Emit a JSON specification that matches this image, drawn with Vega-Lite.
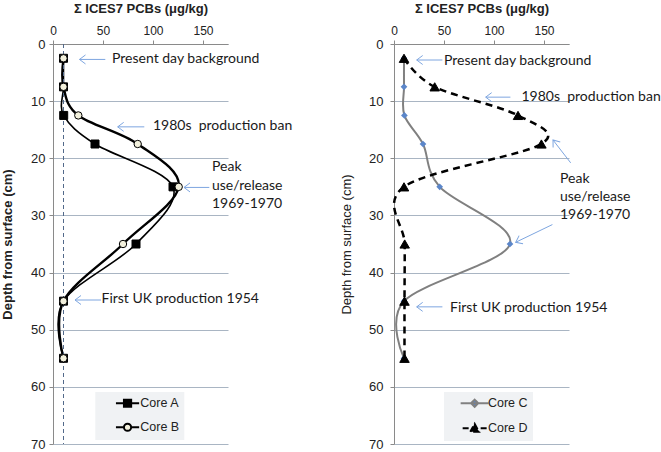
{
  "$schema": "https://vega.github.io/schema/vega-lite/v6.json",
  "padding": {"left": 1, "top": 2, "right": 0, "bottom": 2},
  "spacing": 47,
  "config": {
    "view": {"stroke": null},
    "font": "Liberation Sans",
    "axis": {"labelColor": "#222222", "titleColor": "#222222", "domainColor": "#8a8a8a", "tickColor": "#8a8a8a", "gridColor": "#a9b5c3", "labelOverlap": false}
  },
  "datasets": {
    "cores": [
      {"panel": "L", "core": "Core A", "pcb": 10.5, "depth": 2.5},
      {"panel": "L", "core": "Core A", "pcb": 10.5, "depth": 7.5},
      {"panel": "L", "core": "Core A", "pcb": 10.7, "depth": 12.5},
      {"panel": "L", "core": "Core A", "pcb": 42, "depth": 17.5},
      {"panel": "L", "core": "Core A", "pcb": 120, "depth": 25},
      {"panel": "L", "core": "Core A", "pcb": 83, "depth": 35},
      {"panel": "L", "core": "Core A", "pcb": 10.5, "depth": 45},
      {"panel": "L", "core": "Core A", "pcb": 10.5, "depth": 55},
      {"panel": "L", "core": "Core B", "pcb": 10.5, "depth": 2.5},
      {"panel": "L", "core": "Core B", "pcb": 10.5, "depth": 7.5},
      {"panel": "L", "core": "Core B", "pcb": 25.3, "depth": 12.5},
      {"panel": "L", "core": "Core B", "pcb": 84.7, "depth": 17.5},
      {"panel": "L", "core": "Core B", "pcb": 125.7, "depth": 25},
      {"panel": "L", "core": "Core B", "pcb": 70, "depth": 35},
      {"panel": "L", "core": "Core B", "pcb": 10.5, "depth": 45},
      {"panel": "L", "core": "Core B", "pcb": 10.5, "depth": 55},
      {"panel": "R", "core": "Core C", "pcb": 10, "depth": 2.5},
      {"panel": "R", "core": "Core C", "pcb": 10, "depth": 7.5},
      {"panel": "R", "core": "Core C", "pcb": 10.4, "depth": 12.5},
      {"panel": "R", "core": "Core C", "pcb": 29, "depth": 17.5},
      {"panel": "R", "core": "Core C", "pcb": 45.7, "depth": 25},
      {"panel": "R", "core": "Core C", "pcb": 116, "depth": 35},
      {"panel": "R", "core": "Core C", "pcb": 10, "depth": 45},
      {"panel": "R", "core": "Core C", "pcb": 10, "depth": 55},
      {"panel": "R", "core": "Core D", "pcb": 10, "depth": 2.5},
      {"panel": "R", "core": "Core D", "pcb": 40.7, "depth": 7.5},
      {"panel": "R", "core": "Core D", "pcb": 124, "depth": 12.5},
      {"panel": "R", "core": "Core D", "pcb": 147.4, "depth": 17.5},
      {"panel": "R", "core": "Core D", "pcb": 10, "depth": 25},
      {"panel": "R", "core": "Core D", "pcb": 10.7, "depth": 35},
      {"panel": "R", "core": "Core D", "pcb": 10.5, "depth": 45},
      {"panel": "R", "core": "Core D", "pcb": 10.5, "depth": 55}
    ],
    "background": [{"panel": "L", "pcb": 10.5}],
    "notes": [
      {"panel": "L", "label": "Present day background", "pcb": 59, "depth": 2.7},
      {"panel": "L", "label": "1980s\u00a0 production ban", "pcb": 100, "depth": 14.4},
      {"panel": "L", "label": "Peak", "pcb": 159, "depth": 21.6},
      {"panel": "L", "label": "use/release", "pcb": 159, "depth": 24.9},
      {"panel": "L", "label": "1969-1970", "pcb": 159, "depth": 28},
      {"panel": "L", "label": "First UK production 1954", "pcb": 48.5, "depth": 44.7},
      {"panel": "R", "label": "Present day background", "pcb": 50, "depth": 2.9},
      {"panel": "R", "label": "1980s\u00a0 production ban", "pcb": 127.5, "depth": 9.3},
      {"panel": "R", "label": "Peak", "pcb": 166, "depth": 23.6},
      {"panel": "R", "label": "use/release", "pcb": 166, "depth": 26.8},
      {"panel": "R", "label": "1969-1970", "pcb": 166, "depth": 30},
      {"panel": "R", "label": "First UK production 1954", "pcb": 56, "depth": 46.2}
    ],
    "arrows": [
      {"panel": "L", "pcb": 52.3, "depth": 2.7, "pcb2": 26.5, "depth2": 2.7},
      {"panel": "L", "pcb": 91.3, "depth": 14.5, "pcb2": 64.7, "depth2": 14.5},
      {"panel": "L", "pcb": 156.3, "depth": 25.1, "pcb2": 131, "depth2": 25.1},
      {"panel": "L", "pcb": 48, "depth": 44.8, "pcb2": 22, "depth2": 44.8},
      {"panel": "R", "pcb": 48.4, "depth": 2.8, "pcb2": 22.7, "depth2": 2.8},
      {"panel": "R", "pcb": 116.4, "depth": 9.3, "pcb2": 91.7, "depth2": 9.3},
      {"panel": "R", "pcb": 176.7, "depth": 20.8, "pcb2": 159, "depth2": 16.8},
      {"panel": "R", "pcb": 158.4, "depth": 31.6, "pcb2": 121.7, "depth2": 34.7},
      {"panel": "R", "pcb": 48.4, "depth": 46, "pcb2": 22.7, "depth2": 46}
    ]
  },
  "resolve": {
    "scale": {"x": "independent", "y": "independent", "stroke": "independent", "strokeDash": "independent", "shape": "independent", "fill": "independent"},
    "legend": {"stroke": "independent", "shape": "independent", "fill": "independent", "strokeDash": "independent"}
  },
  "hconcat": [
    {
      "width": 175,
      "height": 400,
      "layer": [
        {
          "data": {"name": "cores"},
          "transform": [{"filter": "datum.core === 'Core A'"}],
          "mark": {"type": "line", "interpolate": "cardinal", "stroke": "#000000", "strokeWidth": 1.6},
          "encoding": {
            "x": {"field": "pcb", "type": "quantitative", "scale": {"domain": [0, 175], "nice": false, "zero": false},
              "axis": {"orient": "top", "values": [0, 25, 50, 75, 100, 125, 150, 175], "title": "Σ ICES7 PCBs (μg/kg)", "grid": false, "titleFontWeight": "bold", "titleFontSize": 13, "titlePadding": 9, "labelFontSize": 12, "labelPadding": 3, "tickSize": 4, "labelFlush": false, "labelOverlap": false}},
            "y": {"field": "depth", "type": "quantitative", "scale": {"domain": [0, 70], "reverse": true, "nice": false, "zero": false},
              "axis": {"values": [0, 10, 20, 30, 40, 50, 60, 70], "title": "Depth from surface (cm)", "grid": true, "titleFontWeight": "bold", "titleFontSize": 13, "titlePadding": 16, "labelFontSize": 13, "labelPadding": 4, "tickSize": 4, "labelFlush": false, "labelOverlap": false}},
            "order": {"field": "depth", "type": "quantitative"}
          }
        },
        {
          "data": {"name": "cores"},
          "transform": [{"filter": "datum.core === 'Core B'"}],
          "mark": {"type": "line", "interpolate": "cardinal", "stroke": "#000000", "strokeWidth": 2.4},
          "encoding": {"x": {"field": "pcb", "type": "quantitative"}, "y": {"field": "depth", "type": "quantitative"}, "order": {"field": "depth", "type": "quantitative"}}
        },
        {
          "data": {"name": "background"},
          "mark": {"type": "rule", "stroke": "#52698a", "strokeDash": [4, 3], "strokeWidth": 1},
          "encoding": {"x": {"field": "pcb", "type": "quantitative"}}
        },
        {
          "data": {"name": "cores"},
          "transform": [{"filter": "datum.core === 'Core A'"}],
          "mark": {"type": "point", "filled": true, "shape": "square", "size": 64, "fill": "#000000", "stroke": "#000000", "strokeWidth": 1, "opacity": 1},
          "encoding": {"x": {"field": "pcb", "type": "quantitative"}, "y": {"field": "depth", "type": "quantitative"}}
        },
        {
          "data": {"name": "cores"},
          "transform": [{"filter": "datum.core === 'Core B'"}],
          "mark": {"type": "point", "filled": true, "shape": "circle", "size": 55, "fill": "#f2f0dc", "stroke": "#000000", "strokeWidth": 1, "opacity": 1},
          "encoding": {"x": {"field": "pcb", "type": "quantitative"}, "y": {"field": "depth", "type": "quantitative"}}
        },
        {
          "data": {"name": "cores"},
          "transform": [{"filter": "datum.panel === 'none'"}],
          "mark": {"type": "point", "filled": true, "opacity": 1, "stroke": "#000000", "strokeWidth": 2},
          "encoding": {
            "x": {"field": "pcb", "type": "quantitative"},
            "y": {"field": "depth", "type": "quantitative"},
            "shape": {"field": "core", "type": "nominal", "scale": {"domain": ["Core A", "Core B"], "range": ["M-2.9,0H2.9M-0.9,-0.9H0.9V0.9H-0.9Z", "M-2.9,0H-0.9M0.9,0H2.9M-0.9,0A0.9,0.9 0 1,0 0.9,0A0.9,0.9 0 1,0 -0.9,0Z"]},
              "legend": {"orient": "none", "legendX": 42.3, "legendY": 348, "title": null, "fillColor": "#f0f2f4", "padding": 5, "rowPadding": 8, "symbolOffset": 21, "labelOffset": 6.5, "labelFont": "Liberation Sans", "labelFontSize": 12.5, "labelColor": "#222222", "symbolSize": 64, "symbolStrokeWidth": 2, "labelExpr": "datum.label + '\u00a0\u00a0\u00a0\u00a0\u00a0\u00a0\u00a0'"}},
            "fill": {"field": "core", "type": "nominal", "scale": {"domain": ["Core A", "Core B"], "range": ["#000000", "#f2f0dc"]}}
          }
        },
        {
          "data": {"name": "arrows"},
          "transform": [{"filter": "datum.panel === 'L'"}],
          "mark": {"type": "rule", "stroke": "#7ea6e0", "strokeWidth": 1},
          "encoding": {"x": {"field": "pcb", "type": "quantitative"}, "y": {"field": "depth", "type": "quantitative"}, "x2": {"field": "pcb2"}, "y2": {"field": "depth2"}}
        },
        {
          "data": {"name": "arrows"},
          "transform": [{"filter": "datum.panel === 'L'"}, {"calculate": "atan2(-(datum.depth2 - datum.depth) * 400 / 70, -(datum.pcb2 - datum.pcb)) * 180 / PI", "as": "ang"}],
          "mark": {"type": "point", "filled": false, "stroke": "#7ea6e0", "strokeWidth": 1, "opacity": 1, "shape": "M2,-1.5L0,0L2,1.5", "size": 36},
          "encoding": {
            "x": {"field": "pcb2", "type": "quantitative"},
            "y": {"field": "depth2", "type": "quantitative"},
            "angle": {"field": "ang", "type": "quantitative", "scale": null}
          }
        },
        {
          "data": {"name": "notes"},
          "transform": [{"filter": "datum.panel === 'L'"}],
          "mark": {"type": "text", "align": "left", "baseline": "middle", "font": "Lato", "fontSize": 14, "color": "#1a1a1a"},
          "encoding": {"x": {"field": "pcb", "type": "quantitative"}, "y": {"field": "depth", "type": "quantitative"}, "text": {"field": "label"}}
        }
      ]
    },
    {
      "width": 175,
      "height": 400,
      "layer": [
        {
          "data": {"name": "cores"},
          "transform": [{"filter": "datum.core === 'Core C'"}],
          "mark": {"type": "line", "interpolate": "cardinal", "stroke": "#808080", "strokeWidth": 2},
          "encoding": {
            "x": {"field": "pcb", "type": "quantitative", "scale": {"domain": [0, 175], "nice": false, "zero": false},
              "axis": {"orient": "top", "values": [0, 25, 50, 75, 100, 125, 150, 175], "title": "Σ ICES7 PCBs (μg/kg)", "grid": false, "titleFontWeight": "bold", "titleFontSize": 13, "titlePadding": 9, "labelFontSize": 12, "labelPadding": 3, "tickSize": 4, "labelFlush": false, "labelOverlap": false}},
            "y": {"field": "depth", "type": "quantitative", "scale": {"domain": [0, 70], "reverse": true, "nice": false, "zero": false},
              "axis": {"values": [0, 10, 20, 30, 40, 50, 60, 70], "title": "Depth from surface (cm)", "grid": true, "titleFontWeight": "normal", "titleFontSize": 13, "titlePadding": 15, "labelFontSize": 13, "labelPadding": 7, "tickSize": 4, "labelFlush": false, "labelOverlap": false}},
            "order": {"field": "depth", "type": "quantitative"}
          }
        },
        {
          "data": {"name": "cores"},
          "transform": [{"filter": "datum.core === 'Core D'"}],
          "mark": {"type": "line", "interpolate": "cardinal", "stroke": "#000000", "strokeWidth": 2.5, "strokeDash": [7, 5]},
          "encoding": {"x": {"field": "pcb", "type": "quantitative"}, "y": {"field": "depth", "type": "quantitative"}, "order": {"field": "depth", "type": "quantitative"}}
        },
        {
          "data": {"name": "cores"},
          "transform": [{"filter": "datum.core === 'Core C'"}],
          "mark": {"type": "point", "filled": true, "shape": "diamond", "size": 45, "fill": "#5b86c9", "strokeWidth": 0, "opacity": 1},
          "encoding": {"x": {"field": "pcb", "type": "quantitative"}, "y": {"field": "depth", "type": "quantitative"}}
        },
        {
          "data": {"name": "cores"},
          "transform": [{"filter": "datum.core === 'Core D'"}],
          "mark": {"type": "point", "filled": true, "shape": "triangle-up", "size": 90, "fill": "#000000", "stroke": "#000000", "strokeWidth": 1, "opacity": 1},
          "encoding": {"x": {"field": "pcb", "type": "quantitative"}, "y": {"field": "depth", "type": "quantitative"}}
        },
        {
          "data": {"name": "cores"},
          "transform": [{"filter": "datum.panel === 'none'"}],
          "mark": {"type": "point", "filled": true, "opacity": 1, "strokeWidth": 2},
          "encoding": {
            "x": {"field": "pcb", "type": "quantitative"},
            "y": {"field": "depth", "type": "quantitative"},
            "shape": {"field": "core", "type": "nominal", "scale": {"domain": ["Core C", "Core D"], "range": ["M-3.5,0H3.5M0,-0.9L0.9,0L0,0.9L-0.9,0Z", "M-3,0H3M0,-1.1L1.1,0.9H-1.1Z"]},
              "legend": {"orient": "none", "legendX": 50, "legendY": 348, "title": null, "fillColor": "#f0f2f4", "padding": 5, "rowPadding": 8, "symbolOffset": 19.4, "labelOffset": 7, "labelFont": "Liberation Sans", "labelFontSize": 12.5, "labelColor": "#222222", "symbolSize": 64, "symbolStrokeWidth": 2, "labelExpr": "datum.label + '\u00a0\u00a0\u00a0\u00a0\u00a0\u00a0\u00a0\u00a0'"}},
            "fill": {"field": "core", "type": "nominal", "scale": {"domain": ["Core C", "Core D"], "range": ["#5b86c9", "#000000"]}},
            "stroke": {"field": "core", "type": "nominal", "scale": {"domain": ["Core C", "Core D"], "range": ["#808080", "#000000"]}},
            "strokeDash": {"field": "core", "type": "nominal", "scale": {"domain": ["Core C", "Core D"], "range": [[1, 0], [6, 3]]}}
          }
        },
        {
          "data": {"name": "arrows"},
          "transform": [{"filter": "datum.panel === 'R'"}],
          "mark": {"type": "rule", "stroke": "#7ea6e0", "strokeWidth": 1},
          "encoding": {"x": {"field": "pcb", "type": "quantitative"}, "y": {"field": "depth", "type": "quantitative"}, "x2": {"field": "pcb2"}, "y2": {"field": "depth2"}}
        },
        {
          "data": {"name": "arrows"},
          "transform": [{"filter": "datum.panel === 'R'"}, {"calculate": "atan2(-(datum.depth2 - datum.depth) * 400 / 70, -(datum.pcb2 - datum.pcb)) * 180 / PI", "as": "ang"}],
          "mark": {"type": "point", "filled": false, "stroke": "#7ea6e0", "strokeWidth": 1, "opacity": 1, "shape": "M2,-1.5L0,0L2,1.5", "size": 36},
          "encoding": {
            "x": {"field": "pcb2", "type": "quantitative"},
            "y": {"field": "depth2", "type": "quantitative"},
            "angle": {"field": "ang", "type": "quantitative", "scale": null}
          }
        },
        {
          "data": {"name": "notes"},
          "transform": [{"filter": "datum.panel === 'R'"}],
          "mark": {"type": "text", "align": "left", "baseline": "middle", "font": "Lato", "fontSize": 14, "color": "#1a1a1a"},
          "encoding": {"x": {"field": "pcb", "type": "quantitative"}, "y": {"field": "depth", "type": "quantitative"}, "text": {"field": "label"}}
        }
      ]
    }
  ]
}
